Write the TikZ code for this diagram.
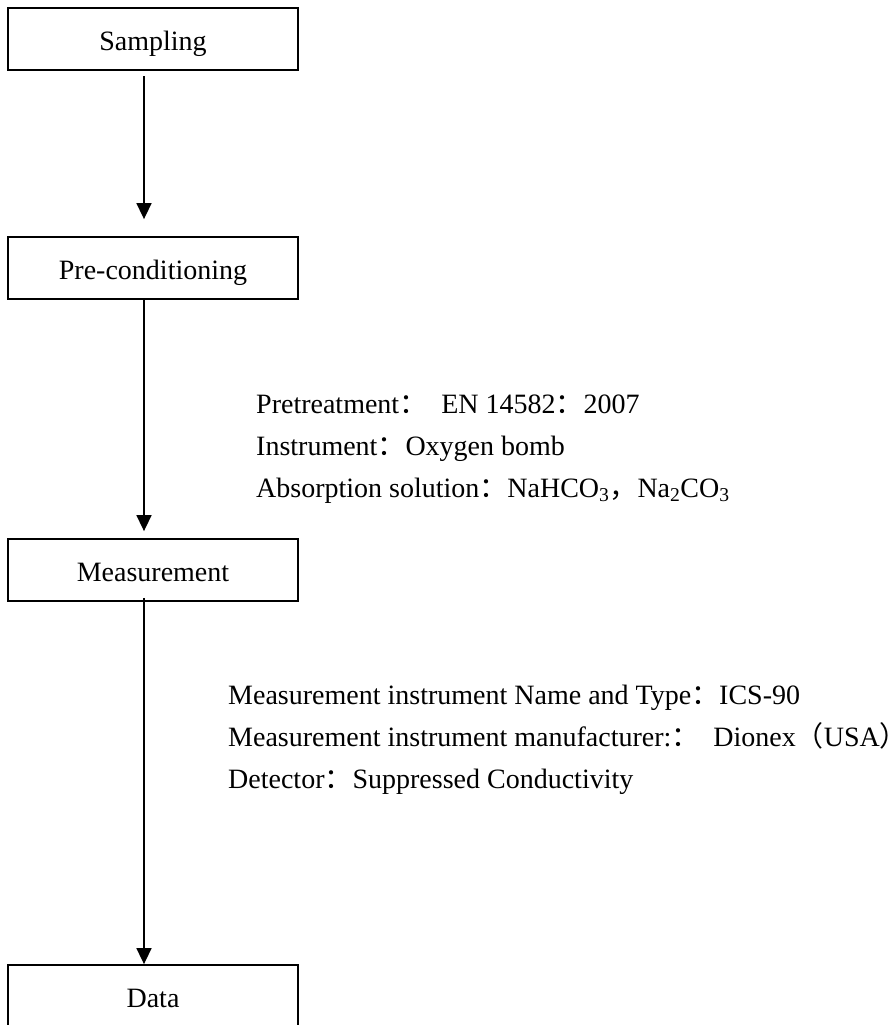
\documentclass[tikz,border=0pt]{standalone}
\usepackage{fontspec}
\setmainfont{Liberation Serif}
\newfontfamily\cjk{Noto Sans CJK SC}
\newcommand\cjkp[1]{{\cjk #1}}
\usetikzlibrary{arrows.meta}
\tikzset{
  stepbox/.style={draw, line width=1.8pt, minimum width=290pt, minimum height=62pt,
    inner sep=0pt, text height=23pt, text depth=0pt, font=\fontsize{28}{34}\selectfont},
  info/.style={anchor=base west, inner sep=0pt, font=\fontsize{28}{34}\selectfont},
  arr/.style={line width=1.6pt, -{Triangle[length=16pt,width=15pt]}}
}
\begin{document}
\begin{tikzpicture}[x=1pt,y=-1pt]
\useasboundingbox (0,0) rectangle (894,1025);
\clip (0,0) rectangle (894,1025);
\node[stepbox] (S) at (153,39.3) {Sampling};
\node[stepbox] (P) at (153,268) {Pre-conditioning};
\node[stepbox] (M) at (153,570) {Measurement};
\node[stepbox] (D) at (153,996) {Data};

\node[info] (t1) at (256,413) {Pretreatment\cjkp{：}\hspace{14pt}EN 14582\cjkp{：}2007};
\node[info] (t2) at (256,455) {Instrument\cjkp{：}Oxygen bomb};
\node[info] (t3) at (256,497) {Absorption solution\cjkp{：}NaHCO\textsubscript{3}\cjkp{，}Na\textsubscript{2}CO\textsubscript{3}};
\node[info] (t4) at (228,704) {Measurement instrument Name and Type\cjkp{：}ICS-90};
\node[info] (t5) at (228,746) {Measurement instrument manufacturer:\cjkp{：}\hspace{14pt}Dionex\cjkp{（}USA\cjkp{）}};
\node[info] (t6) at (228,788) {Detector\cjkp{：}Suppressed Conductivity};

\draw[arr] ([xshift=-9pt,yshift=-5pt]S.south) -- ([xshift=-9pt,yshift=17pt]P.north);
\draw[arr] ([xshift=-9pt]P.south) -- ([xshift=-9pt,yshift=7pt]M.north);
\draw[arr] ([xshift=-9pt,yshift=4pt]M.south) -- ([xshift=-9pt]D.north);
\end{tikzpicture}
\end{document}
